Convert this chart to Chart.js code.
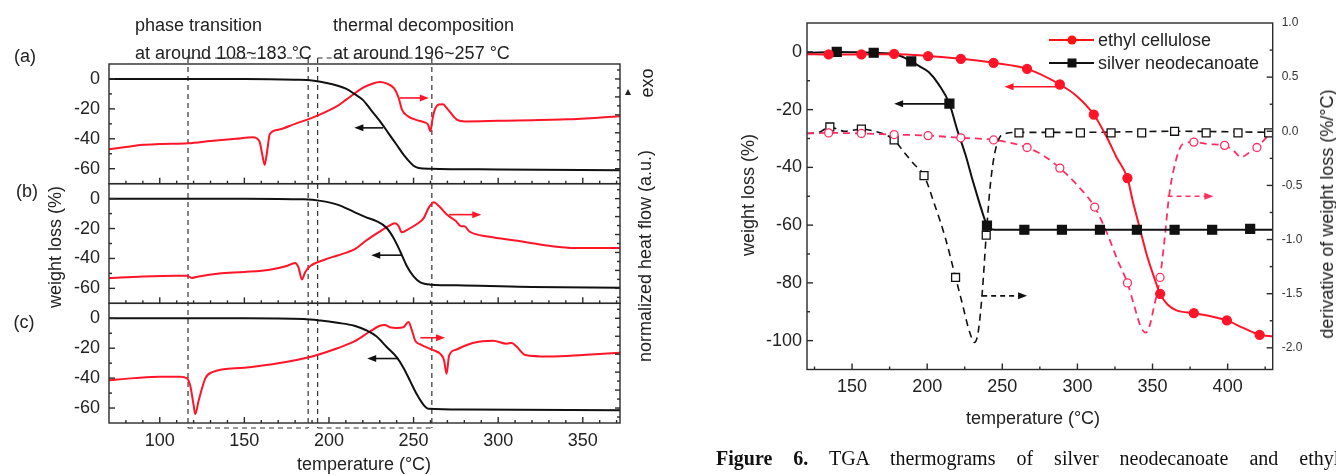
<!DOCTYPE html>
<html>
<head>
<meta charset="utf-8">
<title>TGA / DSC thermograms</title>
<script src="https://cdn.jsdelivr.net/npm/chart.js@4.4.0/dist/chart.umd.min.js"></script>
<style>
    html, body { margin: 0; padding: 0; background: #fff; }
    #page { position: relative; width: 1336px; height: 475px; overflow: hidden;
            font-family: "Liberation Sans", Arial, sans-serif; color: #222; }
    canvas { position: absolute; }
    .t { position: absolute; white-space: nowrap; font-size: 18px; line-height: 1; transform: translateY(-50%); }
    .c { transform: translate(-50%, -50%); }
    .rot { transform: translate(-50%, -50%) rotate(-90deg); }
    .cap { position: absolute; white-space: nowrap; font-family: "Liberation Serif", "Times New Roman", serif;
           font-size: 20px; line-height: 1; transform: translateY(-50%); word-spacing: 16px; color: #111; }
    .lg-line { position: absolute; height: 0; border-top: 2px solid; }
    .lg-dot { position: absolute; width: 9px; height: 9px; border-radius: 50%; transform: translate(-50%, -50%); }
    .lg-sq { position: absolute; width: 9px; height: 9px; transform: translate(-50%, -50%); }
</style>
</head>
<body>
<div id="page">
    <canvas id="leftChart" width="680" height="475" style="left:0;top:0;width:680px;height:475px"></canvas>
    <canvas id="rightChart" width="636" height="475" style="left:700px;top:0;width:636px;height:475px"></canvas>

    <!-- left panel texts -->
    <div class="t" style="left:135px;top:25px">phase transition</div>
    <div class="t" style="left:135px;top:53px">at around 108~183 °C</div>
    <div class="t" style="left:333px;top:25px">thermal decomposition</div>
    <div class="t" style="left:333px;top:53px">at around 196~257 °C</div>
    <div class="t c" style="left:25px;top:56px">(a)</div>
    <div class="t c" style="left:27px;top:191px">(b)</div>
    <div class="t c" style="left:24px;top:322px">(c)</div>
    <div class="t rot" style="left:55px;top:247px">weight loss (%)</div>
    <div class="t rot" style="left:645px;top:256px">normalized heat flow (a.u.)</div>
    <div class="t rot" style="left:647px;top:83px">exo</div>
    <div style="position:absolute;left:625px;top:89px;width:0;height:0;border-left:3px solid transparent;border-right:3px solid transparent;border-bottom:6px solid #222"></div>
    <div class="t c" style="left:364px;top:464px">temperature (°C)</div>

    <!-- right panel texts -->
    <div class="t rot" style="left:748px;top:195px">weight loss (%)</div>
    <div class="t rot" style="left:1327px;top:214px">derivative of weight loss (%/°C)</div>
    <div class="t c" style="left:1033px;top:418px">temperature (°C)</div>

    <!-- legend -->
    <div class="lg-line" style="left:1049px;top:39px;width:45px;border-color:#ff1010"></div>
    <div class="lg-dot" style="left:1072px;top:40px;background:#ff1010"></div>
    <div class="t" style="left:1098px;top:40px">ethyl cellulose</div>
    <div class="lg-line" style="left:1049px;top:62px;width:45px;border-color:#111"></div>
    <div class="lg-sq" style="left:1072px;top:63px;background:#111"></div>
    <div class="t" style="left:1098px;top:63px">silver neodecanoate</div>

    <div class="cap" style="left:716px;top:458px"><b>Figure 6.</b> TGA thermograms of silver neodecanoate and ethyl cellulose</div>
</div>

<script>
// ========================================
// Data
// ========================================

// left panel: x ticks and weight loss ticks
const tempTicksLeft = [100, 150, 200, 250, 300, 350];
const weightTicksLeft = [-60, -40, -20, 0];
// dashed guide lines (temperature)
const guideTemps = [116.7, 187.7, 193.3, 260.8];

// (a) TGA + DSC
const aTgaT = [70, 150, 180, 190, 200, 210, 215, 220, 225, 230, 235, 240, 245, 250, 253, 260, 300, 372];
const aTgaW = [0, 0, -0.5, -1, -3, -6.5, -10, -14, -21, -28, -36, -44, -52, -58, -59.5, -60, -60.5, -61];
const aDscT = [70, 80, 90, 100, 117, 130, 145, 155, 159, 160.5, 162, 163.5, 165, 170, 180, 190, 200, 205, 210, 220, 226, 230, 234, 238.4, 241, 243.2, 246.8, 252, 256.5, 258.5, 260, 261, 262.5, 265, 267.3, 270, 275.7, 280.4, 300, 340, 372];
const aDscW = [-47, -45.5, -44, -43.5, -43, -41.5, -40, -39, -42, -50, -57.5, -48, -37, -34, -30, -26, -21, -18, -14, -6, -3, -2, -3, -6.2, -12, -20.7, -25, -27.5, -29, -30.5, -35, -28, -20.7, -17, -16.9, -20, -27.3, -28.4, -28, -27, -25];

// (b) TGA + DSC
const bTgaT = [70, 150, 185, 195, 205, 215, 222, 228, 234, 238, 242, 246, 250, 254, 260, 280, 320, 372];
const bTgaW = [0, 0, -0.5, -1.5, -4, -9, -12.5, -15, -19.5, -26, -35, -45, -52, -56, -57.5, -58, -59, -59.5];
const bDscT = [70, 90, 110, 116, 119, 123, 135, 150, 165, 175, 180, 182, 184, 186, 189, 197, 205, 215, 222, 230, 235, 239, 241, 243, 246, 252, 256, 259, 262, 265, 270, 275, 278, 280, 283, 295, 310, 330, 345, 372];
const bDscW = [-53, -52, -51.5, -51.5, -53, -52, -50, -49, -47.5, -45, -43, -46, -54, -49, -45, -41, -38, -34, -28, -22, -18.5, -16.5, -18, -22.5, -21, -17, -13, -6, -2.5, -5, -11, -15, -18.5, -18.5, -22, -25.5, -28, -31.5, -33, -33];

// (c) TGA + DSC
const cTgaT = [70, 150, 185, 195, 205, 215, 222, 228, 234, 240, 244, 248, 252, 256, 259, 280, 372];
const cTgaW = [0, 0, -0.5, -1.5, -3, -5, -8, -12, -19, -26, -33, -42, -51, -58, -60.5, -61, -61.5];
const cDscT = [70, 85, 100, 112, 116, 118, 120, 121, 123, 127, 131, 150, 170, 190, 205, 215, 224, 230, 233, 236, 240, 244, 247, 249, 251, 254, 261, 266, 268, 269.5, 271, 275, 285, 297, 305, 308, 311, 316, 330, 350, 372];
const cDscW = [-41.5, -40, -39, -39, -40, -45, -58, -64, -55, -40, -36, -33, -30, -25.5, -20, -15.5, -9, -5, -4.5, -6, -6.5, -6, -2.5, -8, -15, -17.5, -21, -24, -28, -37, -25, -21, -16.5, -15, -17, -16.5, -19, -24.5, -25.5, -24.5, -23];

// right panel ticks
const tempTicksRight = [150, 200, 250, 300, 350, 400];
const weightTicksRight = [-100, -80, -60, -40, -20, 0];
const derivTicks = [-2.0, -1.5, -1.0, -0.5, 0.0, 0.5, 1.0];

// ethyl cellulose: weight loss curve + markers
const ecT = [120, 134.4, 156.2, 178, 200.6, 222.4, 244.2, 266.5, 288.3, 300, 310.9, 320, 326, 333.3, 337, 341.5, 346, 351, 355.1, 360, 366, 377.5, 388, 399.5, 410, 421.3, 430];
const ecW = [-0.8, -0.9, -0.9, -0.8, -1.4, -2.4, -3.8, -5.9, -11.3, -15.5, -21.7, -30, -36.5, -43.7, -52, -61, -70, -78, -83.8, -87.5, -89.5, -90.5, -91.5, -93, -95.5, -98, -98.5];
const ecMarkT = [134.4, 156.2, 178, 200.6, 222.4, 244.2, 266.5, 288.3, 310.9, 333.3, 355.1, 377.5, 399.5, 421.3];
const ecMarkW = [-0.9, -0.9, -0.7, -1.5, -2.4, -3.8, -5.9, -11.3, -21.7, -43.7, -83.8, -90.5, -93, -98];

// silver neodecanoate: weight loss curve + markers
const snT = [120, 139.8, 164.4, 180, 189.4, 195, 201, 208, 214.8, 220, 225.7, 230, 234, 237, 239.8, 242, 250, 300, 430];
const snW = [-0.3, 0, -0.3, -1, -3.3, -5, -7, -11.5, -17.9, -27, -36, -44, -51, -56, -60.2, -61.4, -61.6, -61.6, -61.6];
const snMarkT = [139.8, 164.4, 189.4, 214.8, 239.8, 264.7, 289.7, 315, 339.6, 364.7, 389.7, 415];
const snMarkW = [0, -0.3, -3.3, -17.9, -60.2, -61.6, -61.6, -61.6, -61.6, -61.6, -61.6, -61.3];

// silver neodecanoate: derivative curve + markers
const sndT = [120, 128, 135.2, 145, 156.2, 165, 172, 178, 185, 191, 197.9, 205, 212, 218.9, 222.8, 228.4, 231.5, 234, 236.6, 239.3, 242, 245, 250, 261, 300, 364.5, 430];
const sndV = [-0.02, -0.01, 0.04, 0.0, 0.02, 0.0, -0.03, -0.08, -0.2, -0.3, -0.41, -0.68, -0.98, -1.35, -1.56, -1.86, -1.95, -1.85, -1.5, -0.96, -0.5, -0.2, -0.03, -0.01, -0.01, 0.0, -0.01];
const sndMarkT = [135.2, 156.2, 178, 197.9, 218.9, 239.3, 261.1, 281.5, 302, 322.4, 342.8, 364.7, 385.7, 406.9, 427.3];
const sndMarkV = [0.04, 0.02, -0.08, -0.41, -1.35, -0.96, -0.015, -0.015, -0.015, -0.015, -0.015, 0.0, -0.015, -0.015, -0.015];

// ethyl cellulose: derivative curve + markers
const ecdT = [120, 135, 156, 178, 200.6, 222.4, 244.2, 266.5, 278, 288.3, 300, 311.5, 320, 327, 333.3, 338, 342, 345.5, 348, 351, 355, 358, 361, 365, 370, 377.5, 388, 398, 404, 409, 414, 419.5, 425, 430];
const ecdV = [-0.02, -0.015, -0.02, -0.03, -0.04, -0.06, -0.08, -0.15, -0.23, -0.34, -0.5, -0.7, -0.95, -1.2, -1.4, -1.62, -1.8, -1.86, -1.8, -1.62, -1.35, -1.0, -0.6, -0.3, -0.12, -0.1, -0.12, -0.13, -0.18, -0.24, -0.2, -0.15, -0.07, 0.0];
const ecdMarkT = [134.4, 156.2, 178, 200.6, 222.4, 244.2, 266.5, 288.3, 311.5, 333.3, 355, 377.5, 398, 419.5];
const ecdMarkV = [-0.015, -0.02, -0.03, -0.04, -0.06, -0.08, -0.15, -0.34, -0.7, -1.4, -1.35, -0.1, -0.13, -0.15];

// annotation arrows (data coordinates)
const leftArrows = [
    { axis: 'ya', from: 242, to: 259, y: -12.7, red: true },
    { axis: 'ya', from: 232, to: 215, y: -32.7, red: false },
    { axis: 'yb', from: 271, to: 290, y: -10.7, red: true },
    { axis: 'yb', from: 243, to: 225, y: -37.8, red: false },
    { axis: 'yc', from: 254, to: 268.6, y: -13, red: true },
    { axis: 'yc', from: 241, to: 222.6, y: -26.9, red: false }
];
const rightArrows = [
    { axis: 'y', from: 288, to: 251.5, y: -12.1, red: true, dashed: false },
    { axis: 'y', from: 214.8, to: 178, y: -18, red: false, dashed: false },
    { axis: 'y2', from: 360, to: 390.5, y: -0.6, red: true, dashed: true },
    { axis: 'y2', from: 236.6, to: 266.5, y: -1.52, red: false, dashed: true }
];

// ========================================
// Helpers
// ========================================
const RED = '#ff1428';
const PINK = '#ff2d62';
const BLACK = '#111111';
const FRAME = '#2a2a2a';
const FONT = '"Liberation Sans", Arial, sans-serif';

const pts = (xs, ys) => xs.map((x, i) => ({ x: x, y: ys[i] }));
const fixedTicks = list => scale => { scale.ticks = list.map(v => ({ value: v })); };

function tick(ctx, x1, y1, x2, y2) {
    ctx.beginPath();
    ctx.moveTo(x1, y1);
    ctx.lineTo(x2, y2);
    ctx.stroke();
}

function drawArrow(ctx, x1, x2, y, color, dashed) {
    const dir = Math.sign(x2 - x1);
    ctx.save();
    ctx.strokeStyle = color;
    ctx.fillStyle = color;
    ctx.lineWidth = 1.6;
    if (dashed) ctx.setLineDash([5, 4]);
    ctx.beginPath();
    ctx.moveTo(x1, y);
    ctx.lineTo(x2 - dir * 6, y);
    ctx.stroke();
    ctx.setLineDash([]);
    ctx.beginPath();
    ctx.moveTo(x2, y);
    ctx.lineTo(x2 - dir * 9, y - 3.5);
    ctx.lineTo(x2 - dir * 9, y + 3.5);
    ctx.closePath();
    ctx.fill();
    ctx.restore();
}

function lineSet(xs, ys, axis, color, width, dash) {
    return {
        data: pts(xs, ys), yAxisID: axis, borderColor: color, borderWidth: width,
        borderDash: dash || [], pointRadius: 0, cubicInterpolationMode: 'monotone', fill: false
    };
}

function markerSet(xs, ys, axis, style, radius, fillColor, edgeColor) {
    return {
        data: pts(xs, ys), yAxisID: axis, showLine: false, pointStyle: style,
        pointRadius: radius, pointBackgroundColor: fillColor, pointBorderColor: edgeColor,
        pointBorderWidth: 1.3
    };
}

Chart.defaults.font.family = FONT;
Chart.defaults.color = '#222';

// ========================================
// Left panel: three stacked TGA / DSC plots
// ========================================
const subplotAxis = (weight) => ({
    type: 'linear', position: 'left', stack: 'panels', stackWeight: 1, weight: weight,
    min: -70, max: 10,
    afterBuildTicks: fixedTicks(weightTicksLeft),
    afterFit: s => { s.width = 109; },
    grid: { display: false, drawTicks: false },
    border: { display: false },
    ticks: { font: { size: 18 }, padding: 9, color: '#222', autoSkip: false }
});

const leftFrames = {
    id: 'leftFrames',
    beforeDatasetsDraw(chart) {
        const { ctx, chartArea: area, scales } = chart;
        const x = scales.x;
        ctx.save();
        ctx.strokeStyle = '#333';
        ctx.lineWidth = 1.2;
        ctx.setLineDash([5, 4]);
        const top = area.top - 6, bottom = area.bottom + 5;
        const px = guideTemps.map(t => x.getPixelForValue(t));
        px.forEach(p => tick(ctx, p, top, p, bottom));
        [[0, 1], [2, 3]].forEach(([i, j]) => {
            tick(ctx, px[i], top, px[j], top);
            tick(ctx, px[i], bottom, px[j], bottom);
        });
        ctx.restore();
    },
    afterDraw(chart) {
        const { ctx, chartArea: area, scales } = chart;
        const x = scales.x;
        ctx.save();
        ctx.strokeStyle = FRAME;
        ctx.lineWidth = 1.4;
        ['ya', 'yb', 'yc'].forEach(id => {
            const s = scales[id];
            ctx.strokeRect(area.left, s.top, area.right - area.left, s.bottom - s.top);
            for (let v = -60; v <= 0; v += 10) {
                const py = s.getPixelForValue(v);
                tick(ctx, area.left, py, area.left + (v % 20 === 0 ? 6 : 3), py);
            }
            for (let v = -66; v <= 6; v += 6) {
                const py = s.getPixelForValue(v);
                tick(ctx, area.right, py, area.right - (v % 12 === 0 ? 5 : 3), py);
            }
            for (let t = 80; t <= 370; t += 10) {
                const p = x.getPixelForValue(t);
                tick(ctx, p, s.bottom, p, s.bottom - (t % 50 === 0 ? 6 : 3));
            }
        });
        ctx.restore();
        leftArrows.forEach(a => {
            const s = scales[a.axis];
            drawArrow(ctx, x.getPixelForValue(a.from), x.getPixelForValue(a.to),
                s.getPixelForValue(a.y), a.red ? RED : BLACK, false);
        });
    }
};

new Chart(document.getElementById('leftChart'), {
    type: 'line',
    data: {
        datasets: [
            lineSet(aTgaT, aTgaW, 'ya', BLACK, 2),
            lineSet(aDscT, aDscW, 'ya', RED, 2),
            lineSet(bTgaT, bTgaW, 'yb', BLACK, 2),
            lineSet(bDscT, bDscW, 'yb', RED, 2),
            lineSet(cTgaT, cTgaW, 'yc', BLACK, 2),
            lineSet(cDscT, cDscW, 'yc', RED, 2)
        ]
    },
    options: {
        responsive: false,
        animation: false,
        events: [],
        layout: { padding: { top: 64, right: 60, left: 0, bottom: 0 } },
        plugins: { legend: { display: false }, tooltip: { enabled: false } },
        scales: {
            x: {
                type: 'linear', position: 'bottom', min: 70, max: 372,
                afterBuildTicks: fixedTicks(tempTicksLeft),
                afterFit: s => { s.height = 52; },
                grid: { display: false, drawTicks: false },
                border: { display: false },
                ticks: { font: { size: 18 }, padding: 7, color: '#222', autoSkip: false, maxRotation: 0 }
            },
            ya: subplotAxis(3),
            yb: subplotAxis(2),
            yc: subplotAxis(1)
        }
    },
    plugins: [leftFrames]
});

// ========================================
// Right panel: TGA and derivative curves
// ========================================
const rightFrames = {
    id: 'rightFrames',
    afterDraw(chart) {
        const { ctx, chartArea: area, scales } = chart;
        const { x, y, y2 } = scales;
        ctx.save();
        ctx.strokeStyle = FRAME;
        ctx.lineWidth = 1.4;
        ctx.strokeRect(area.left, area.top, area.right - area.left, area.bottom - area.top);
        for (let v = -100; v <= 0; v += 10) {
            const py = y.getPixelForValue(v);
            tick(ctx, area.left, py, area.left + (v % 20 === 0 ? 6 : 3), py);
        }
        for (let v = -2.0; v <= 0.76; v += 0.25) {
            const py = y2.getPixelForValue(v);
            const major = Math.abs(v * 2 - Math.round(v * 2)) < 1e-6;
            tick(ctx, area.right, py, area.right - (major ? 6 : 3), py);
        }
        for (let t = 125; t <= 425; t += 25) {
            const p = x.getPixelForValue(t);
            tick(ctx, p, area.bottom, p, area.bottom - (t % 50 === 0 ? 6 : 3));
        }
        ctx.restore();
        rightArrows.forEach(a => {
            const s = scales[a.axis];
            const color = a.red ? (a.dashed ? PINK : RED) : BLACK;
            drawArrow(ctx, x.getPixelForValue(a.from), x.getPixelForValue(a.to),
                s.getPixelForValue(a.y), color, a.dashed);
        });
    }
};

new Chart(document.getElementById('rightChart'), {
    type: 'line',
    data: {
        datasets: [
            markerSet(ecMarkT, ecMarkW, 'y', 'circle', 4.5, RED, RED),
            markerSet(snMarkT, snMarkW, 'y', 'rect', 6.3, BLACK, BLACK),
            markerSet(ecdMarkT, ecdMarkV, 'y2', 'circle', 4, '#ffffff', PINK),
            markerSet(sndMarkT, sndMarkV, 'y2', 'rect', 5.6, '#ffffff', BLACK),
            lineSet(ecT, ecW, 'y', RED, 2),
            lineSet(snT, snW, 'y', BLACK, 2),
            lineSet(ecdT, ecdV, 'y2', PINK, 1.8, [7, 5]),
            lineSet(sndT, sndV, 'y2', BLACK, 1.6, [7, 5])
        ]
    },
    options: {
        responsive: false,
        animation: false,
        events: [],
        layout: { padding: { top: 23, right: 0, left: 0, bottom: 0 } },
        plugins: { legend: { display: false }, tooltip: { enabled: false } },
        scales: {
            x: {
                type: 'linear', position: 'bottom', min: 120, max: 430,
                afterBuildTicks: fixedTicks(tempTicksRight),
                afterFit: s => { s.height = 105.5; },
                grid: { display: false, drawTicks: false },
                border: { display: false },
                ticks: { font: { size: 18 }, padding: 7, color: '#222', autoSkip: false, maxRotation: 0 }
            },
            y: {
                type: 'linear', position: 'left', min: -110, max: 10,
                afterBuildTicks: fixedTicks(weightTicksRight),
                afterFit: s => { s.width = 107; },
                grid: { display: false, drawTicks: false },
                border: { display: false },
                ticks: { font: { size: 18 }, padding: 5, color: '#222', autoSkip: false }
            },
            y2: {
                type: 'linear', position: 'right', min: -2.2, max: 1.0,
                afterBuildTicks: fixedTicks(derivTicks),
                afterFit: s => { s.width = 63.3; },
                grid: { display: false, drawTicks: false },
                border: { display: false },
                ticks: { font: { size: 12 }, padding: 9, color: '#333', autoSkip: false, callback: v => v.toFixed(1) }
            }
        }
    },
    plugins: [rightFrames]
});
</script>
</body>
</html>
